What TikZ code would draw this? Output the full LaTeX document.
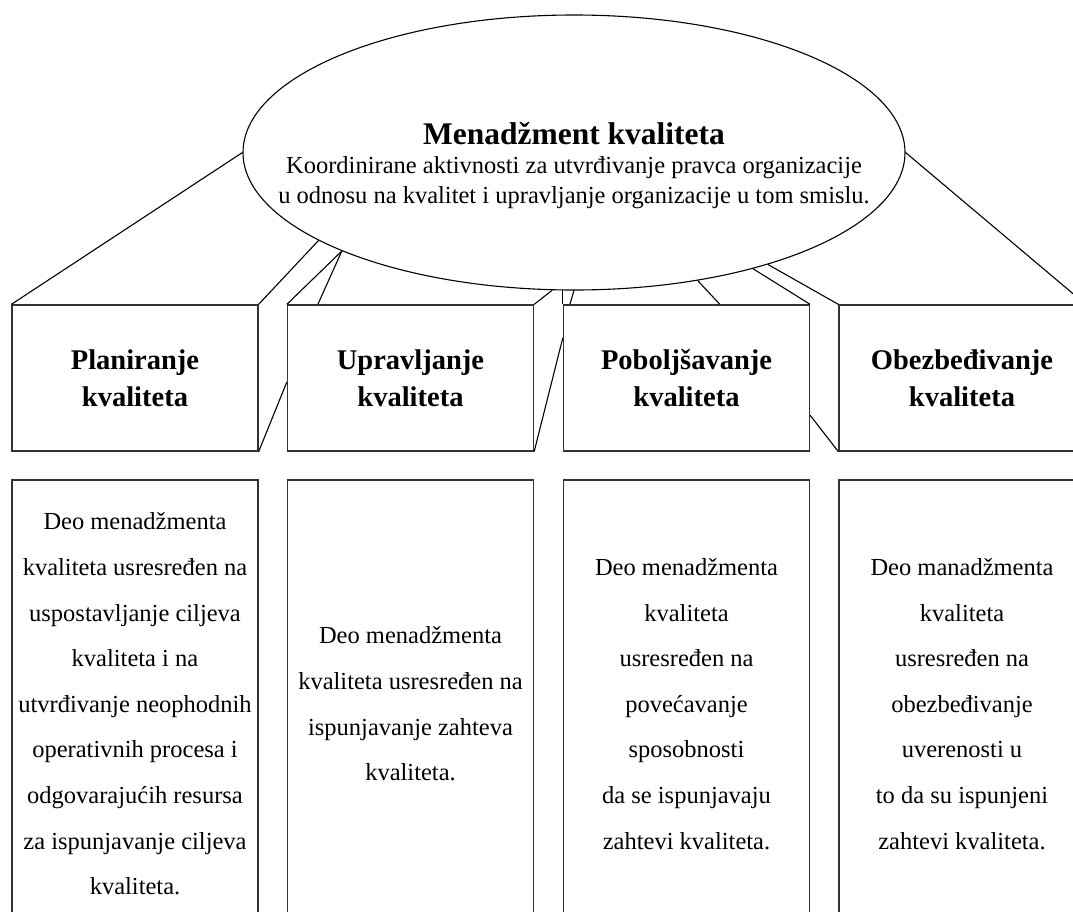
\documentclass[tikz,border=0pt]{standalone}
\usepackage{fontspec}
\setmainfont{Liberation Serif}
\usetikzlibrary{shapes.geometric,calc}

% font sizes (1 unit = 1pt)
\newcommand\ttlfnt{\fontsize{31.5}{38}\selectfont\bfseries}
\newcommand\hdfnt{\fontsize{28.5}{37}\selectfont\bfseries}
\newcommand\bodyfnt{\fontsize{24.5}{45.6}\selectfont}

\begin{document}
\begin{tikzpicture}[x=1pt,y=-1pt,
  conn/.style={draw=black,line width=1.1pt},
  topbox/.style={draw=black!80,line width=1.3pt,rectangle,minimum width=246pt,
    minimum height=146pt,inner sep=0pt,align=center,font=\hdfnt},
  descbox/.style={draw=black!80,line width=1.3pt,rectangle,minimum width=246pt,
    minimum height=448pt,inner sep=0pt,align=center,font=\bodyfnt},
  oval/.style={draw=black,line width=1.1pt,ellipse,minimum width=662pt,
    minimum height=275pt,inner sep=0pt},
  txt/.style={anchor=base,inner sep=0pt}]

\clip (0,0) rectangle (1073,911);
\fill[white] (0,0) rectangle (1073,911);

% central ellipse and its texts
\node[oval] (ell) at (574,152.5) {};
\node[txt,font=\ttlfnt] (ttl) at (574,144) {Menadžment kvaliteta};
\node[txt,font=\bodyfnt] (sub1) at (574,173) {Koordinirane aktivnosti za utvrđivanje pravca organizacije};
\node[txt,font=\bodyfnt] (sub2) at (574,203) {u odnosu na kvalitet i upravljanje organizacije u tom smislu.};

% heading boxes
\node[topbox] (b1) at (135,378)   {Planiranje\\kvaliteta};
\node[topbox] (b2) at (410.5,378) {Upravljanje\\kvaliteta};
\node[topbox] (b3) at (686.5,378) {Poboljšavanje\\kvaliteta};
\node[topbox] (b4) at (962,378)   {Obezbeđivanje\\kvaliteta};

% description boxes
\node[descbox] (d1) at (135,704) {Deo menadžmenta\\kvaliteta usresređen na\\uspostavljanje ciljeva\\kvaliteta i na\\utvrđivanje neophodnih\\operativnih procesa i\\odgovarajućih resursa\\za ispunjavanje ciljeva\\kvaliteta.};
\node[descbox] (d2) at (410.5,704) {Deo menadžmenta\\kvaliteta usresređen na\\ispunjavanje zahteva\\kvaliteta.};
\node[descbox] (d3) at (686.5,704) {Deo menadžmenta\\kvaliteta\\usresređen na\\povećavanje\\sposobnosti\\da se ispunjavaju\\zahtevi kvaliteta.};
\node[descbox] (d4) at (962,704) {Deo manadžmenta\\kvaliteta\\usresređen na\\obezbeđivanje\\uverenosti u\\to da su ispunjeni\\zahtevi kvaliteta.};

% connecting lines
\draw[conn] (b1.north west) -- (ell.180);
\draw[conn] (b1.north east) -- (ell.199);
\draw[conn] (b1.south east) -- ($(b2.north west)!0.527!(b2.south west)$);
\draw[conn] (b2.north west) -- (ell.203);
\draw[conn] ([xshift=31pt]b2.north west) -- (ell.203);
\draw[conn] (b2.north east) -- (ell.261);
\draw[conn] (b2.south east) -- ($(b3.north west)!0.226!(b3.south west)$);
\draw[conn] (b3.north west) -- (b3.north west |- ell.266);
\draw[conn] ([xshift=7pt]b3.north west) -- (ell.270);
\draw[conn] ([xshift=157pt]b3.north west) -- (ell.314);
\draw[conn] (b3.north east) -- (ell.327);
\draw[conn] (b4.north west) -- (ell.330);
\draw[conn] ($(b3.north east)!0.753!(b3.south east)$) -- (b4.south west);
\draw[conn] (ell.0) -- (b4.north east);
\end{tikzpicture}
\end{document}
